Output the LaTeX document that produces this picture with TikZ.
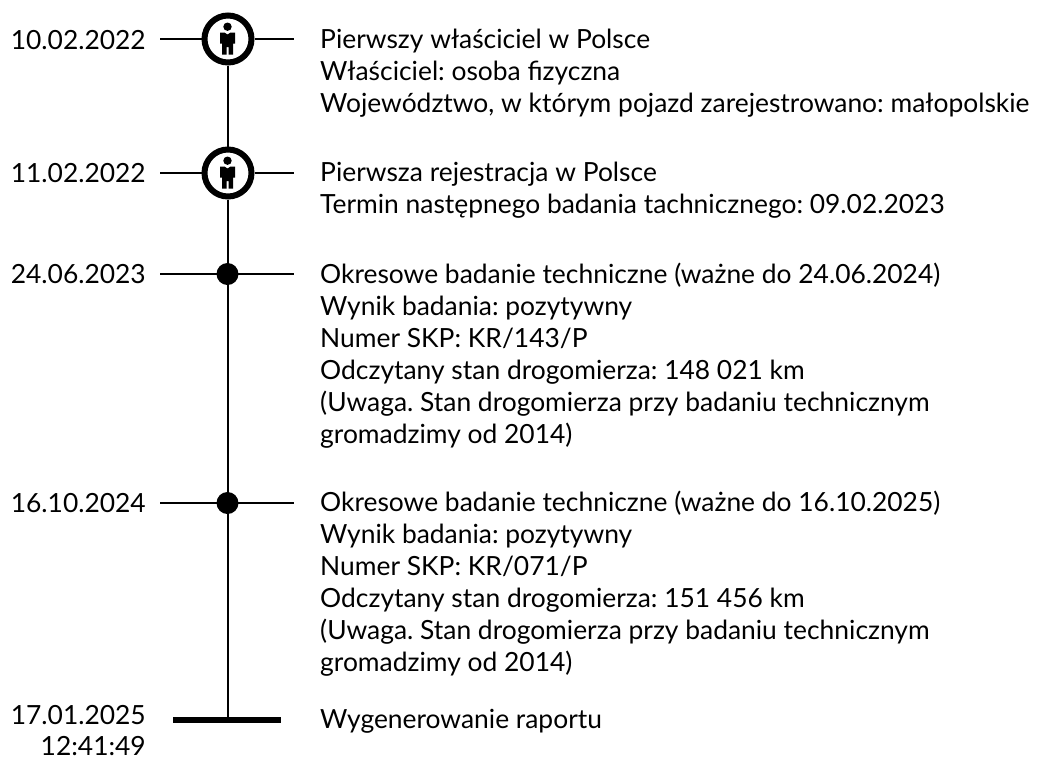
\documentclass[tikz,border=0pt]{standalone}
\usepackage{fontspec}
\setmainfont{Lato}
\usetikzlibrary{calc}
\newcommand{\person}[1]{%
  \fill[black] ($(#1)+(-0.5,-12.3)$) circle (4.2);
  \fill[black] ($(#1)+(-8,-6.5)$) -- ($(#1)+(-3.5,-6.5)$) -- ($(#1)+(-0.5,-4.5)$) -- ($(#1)+(2.5,-6.5)$) -- ($(#1)+(7,-6.5)$) -- ($(#1)+(7,4.5)$) -- ($(#1)+(5,4.5)$) -- ($(#1)+(5,15.5)$) -- ($(#1)+(0.5,15.5)$) -- ($(#1)+(0.5,8)$) -- ($(#1)+(-1.5,8)$) -- ($(#1)+(-1.5,15.5)$) -- ($(#1)+(-6,15.5)$) -- ($(#1)+(-6,4.5)$) -- ($(#1)+(-8,4.5)$) -- cycle;}
\tikzset{
  txt/.style={anchor=north west,font=\fontsize{26.4}{32}\selectfont\frenchspacing,inner sep=0pt,align=left},
  datel/.style={anchor=base east,font=\fontsize{26.4}{32}\selectfont,inner sep=0pt,align=right},
  conn/.style={draw=black,line width=1.1pt},
  ring/.style={circle,draw=black,line width=6pt,fill=white,minimum size=47pt,inner sep=0pt},
  dot/.style={circle,fill=black,minimum size=22pt,inner sep=0pt},
  endbar/.style={fill=black,minimum width=108pt,minimum height=6pt,inner sep=0pt}
}
\begin{document}
\begin{tikzpicture}[x=1pt,y=-1pt]
\useasboundingbox (0,0) rectangle (1044,756);
\node[ring] (e1) at (228,39) {};
\node[ring] (e2) at (228,173) {};
\node[dot] (e3) at (227.5,274) {};
\node[dot] (e4) at (227.5,503) {};
\node[endbar] (e5) at (227,720) {};
\coordinate (v4) at (228.3,717);
\coordinate (l1) at (160,39); \coordinate (r1) at (294,39);
\coordinate (l2) at (160,173); \coordinate (r2) at (294,173);
\coordinate (l3) at (160,274); \coordinate (r3) at (294,274);
\coordinate (l4) at (160,503); \coordinate (r4) at (294,503);
\draw[conn] (e1) -- (e2);
\draw[conn] (e2) -- (e3.center -| e2);
\draw[conn] (e2 |- e3) -- (e2 |- e4);
\draw[conn] (e2 |- e4) -- (e2 |- v4);
\foreach \n in {1,2}{\draw[conn] (l\n) -- (e\n.west); \draw[conn] (e\n.east) -- (r\n);}
\foreach \n in {3,4}{\draw[conn] (l\n) -- (r\n);}
\person{e1}
\person{e2}
\node[datel] (d1) at (146,49.5) {10.02.2022};
\node[datel] (d2) at (146,182.5) {11.02.2022};
\node[datel] (d3) at (146,283.5) {24.06.2023};
\node[datel] (d4) at (146,512) {16.10.2024};
\node[datel] (d5a) at (146,724) {17.01.2025};
\node[datel] (d5b) at (146,755) {12:41:49};
\node[txt] (t1) at (320,29) {Pierwszy właściciel w Polsce\\Właściciel: osoba fizyczna\\Województwo, w którym pojazd zarejestrowano: małopolskie};
\node[txt] (t2) at (320,162) {Pierwsza rejestracja w Polsce\\Termin następnego badania tachnicznego: 09.02.2023};
\node[txt] (t3) at (320,263) {Okresowe badanie techniczne (ważne do 24.06.2024)\\Wynik badania: pozytywny\\Numer SKP: KR/143/P\\Odczytany stan drogomierza: 148 021 km\\(Uwaga. Stan drogomierza przy badaniu technicznym\\gromadzimy od 2014)};
\node[txt] (t4) at (320,491) {Okresowe badanie techniczne (ważne do 16.10.2025)\\Wynik badania: pozytywny\\Numer SKP: KR/071/P\\Odczytany stan drogomierza: 151 456 km\\(Uwaga. Stan drogomierza przy badaniu technicznym\\gromadzimy od 2014)};
\node[txt] (t5) at (320,709) {Wygenerowanie raportu};
\end{tikzpicture}
\end{document}
